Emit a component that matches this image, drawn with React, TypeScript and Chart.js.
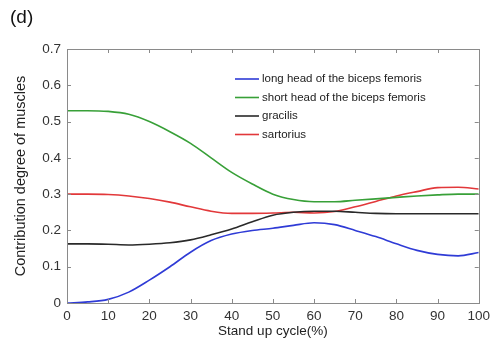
import React, { useEffect, useRef } from "react";
import { Chart, registerables } from "chart.js";

Chart.register(...registerables);

const cycle = [0, 5, 10, 15, 20, 25, 30, 35, 40, 45, 50, 55, 60, 65, 70, 75, 80, 85, 90, 95, 100];
const longHead = [0.0, 0.003, 0.01, 0.03, 0.063, 0.1, 0.14, 0.172, 0.19, 0.2, 0.206, 0.214, 0.221, 0.216, 0.2, 0.183, 0.163, 0.145, 0.134, 0.13, 0.139];
const shortHead = [0.53, 0.53, 0.528, 0.52, 0.5, 0.472, 0.44, 0.4, 0.36, 0.328, 0.3, 0.285, 0.279, 0.279, 0.283, 0.287, 0.291, 0.295, 0.298, 0.3, 0.3];
const gracilis = [0.163, 0.163, 0.162, 0.16, 0.162, 0.166, 0.174, 0.188, 0.204, 0.224, 0.242, 0.25, 0.253, 0.253, 0.25, 0.247, 0.246, 0.246, 0.246, 0.246, 0.246];
const sartorius = [0.3, 0.3, 0.299, 0.295, 0.288, 0.278, 0.265, 0.253, 0.247, 0.247, 0.248, 0.25, 0.248, 0.252, 0.265, 0.28, 0.295, 0.307, 0.318, 0.319, 0.314];
const seriesLabels = [
  "long head of the biceps femoris",
  "short head of the biceps femoris",
  "gracilis",
  "sartorius",
];
const seriesColors = ["#2f3bd6", "#38a038", "#2a2a2a", "#e2383a"];
const panelLabel = "(d)";
const xTitle = "Stand up cycle(%)";
const yTitle = "Contribution degree of muscles";

const FONT = "'Liberation Sans', Arial, sans-serif";

export default function App() {
  const ref = useRef<HTMLCanvasElement | null>(null);
  useEffect(() => {
    if (!ref.current) return;
    const all = [longHead, shortHead, gracilis, sartorius];
    const decor = {
      id: "decor",
      afterDraw(chart: any) {
        const ctx = chart.ctx as CanvasRenderingContext2D;
        const { left, right, top, bottom } = chart.chartArea;
        const xs = chart.scales.x;
        const ys = chart.scales.y;
        ctx.save();
        // box
        ctx.strokeStyle = "#8a8a8a";
        ctx.lineWidth = 1;
        ctx.strokeRect(Math.round(left) + 0.5, Math.round(top) + 0.5, Math.round(right - left), Math.round(bottom - top));
        // inward ticks
        const tl = 4;
        ctx.beginPath();
        for (let v = 0; v <= 100; v += 10) {
          const px = Math.round(xs.getPixelForValue(v)) + 0.5;
          ctx.moveTo(px, bottom); ctx.lineTo(px, bottom - tl);
          ctx.moveTo(px, top); ctx.lineTo(px, top + tl);
        }
        for (let i = 0; i <= 7; i++) {
          const py = Math.round(ys.getPixelForValue(i / 10)) + 0.5;
          ctx.moveTo(left, py); ctx.lineTo(left + tl, py);
          ctx.moveTo(right, py); ctx.lineTo(right - tl, py);
        }
        ctx.stroke();
        // panel label
        ctx.fillStyle = "#111";
        ctx.font = `19px ${FONT}`;
        ctx.textAlign = "left";
        ctx.textBaseline = "middle";
        ctx.fillText(panelLabel, 10, 18);
        // axis titles
        ctx.font = `13.5px ${FONT}`;
        ctx.fillStyle = "#222";
        ctx.textAlign = "center";
        ctx.fillText(xTitle, (left + right) / 2, 331);
        ctx.save();
        ctx.font = `14.5px ${FONT}`;
        ctx.translate(21, (top + bottom) / 2);
        ctx.rotate(-Math.PI / 2);
        ctx.fillText(yTitle, 0, 0);
        ctx.restore();
        // legend
        const lx = 235, ly = 79, dy = 18.5;
        ctx.fillStyle = "#fff";
        ctx.fillRect(lx - 6, ly - 10, 215, dy * 4 + 4);
        ctx.font = `11.5px ${FONT}`;
        ctx.textAlign = "left";
        seriesLabels.forEach((lab, i) => {
          const y = ly + i * dy;
          ctx.strokeStyle = seriesColors[i];
          ctx.lineWidth = 1.6;
          ctx.beginPath();
          ctx.moveTo(lx, y);
          ctx.lineTo(lx + 24, y);
          ctx.stroke();
          ctx.fillStyle = "#222";
          ctx.fillText(lab, lx + 27, y);
        });
        ctx.restore();
      },
    };
    const chart = new Chart(ref.current, {
      type: "line",
      data: {
        datasets: all.map((arr, i) => ({
          label: seriesLabels[i],
          data: cycle.map((c, j) => ({ x: c, y: arr[j] })),
          borderColor: seriesColors[i],
          backgroundColor: seriesColors[i],
          borderWidth: 1.6,
          pointRadius: 0,
          cubicInterpolationMode: "monotone" as const,
          fill: false,
        })),
      },
      options: {
        animation: false,
        responsive: false,
        maintainAspectRatio: false,
        layout: { padding: { left: 0, right: 16, top: 49, bottom: 0 } },
        plugins: { legend: { display: false }, tooltip: { enabled: false }, title: { display: false } },
        scales: {
          x: {
            type: "linear",
            min: 0,
            max: 100,
            ticks: { stepSize: 10, color: "#333", font: { family: FONT, size: 13.5 }, padding: 5, maxRotation: 0, autoSkip: false },
            grid: { display: false, drawTicks: false },
            border: { display: false },
            afterFit(scale: any) { scale.height = 41; },
          },
          y: {
            type: "linear",
            min: 0,
            max: 0.7,
            ticks: {
              stepSize: 0.1,
              color: "#333",
              font: { family: FONT, size: 13.5 },
              padding: 6,
              callback: (v: any) => (Math.round(Number(v) * 10) / 10).toString(),
            },
            grid: { display: false, drawTicks: false },
            border: { display: false },
            afterFit(scale: any) { scale.width = 67; },
          },
        },
      },
      plugins: [decor],
    });
    return () => chart.destroy();
  }, []);
  return (
    <div style={{ position: "fixed", left: 0, top: 0, width: 495, height: 344, background: "#fff" }}>
      <canvas ref={ref} width={495} height={344} style={{ width: 495, height: 344 }} />
    </div>
  );
}
